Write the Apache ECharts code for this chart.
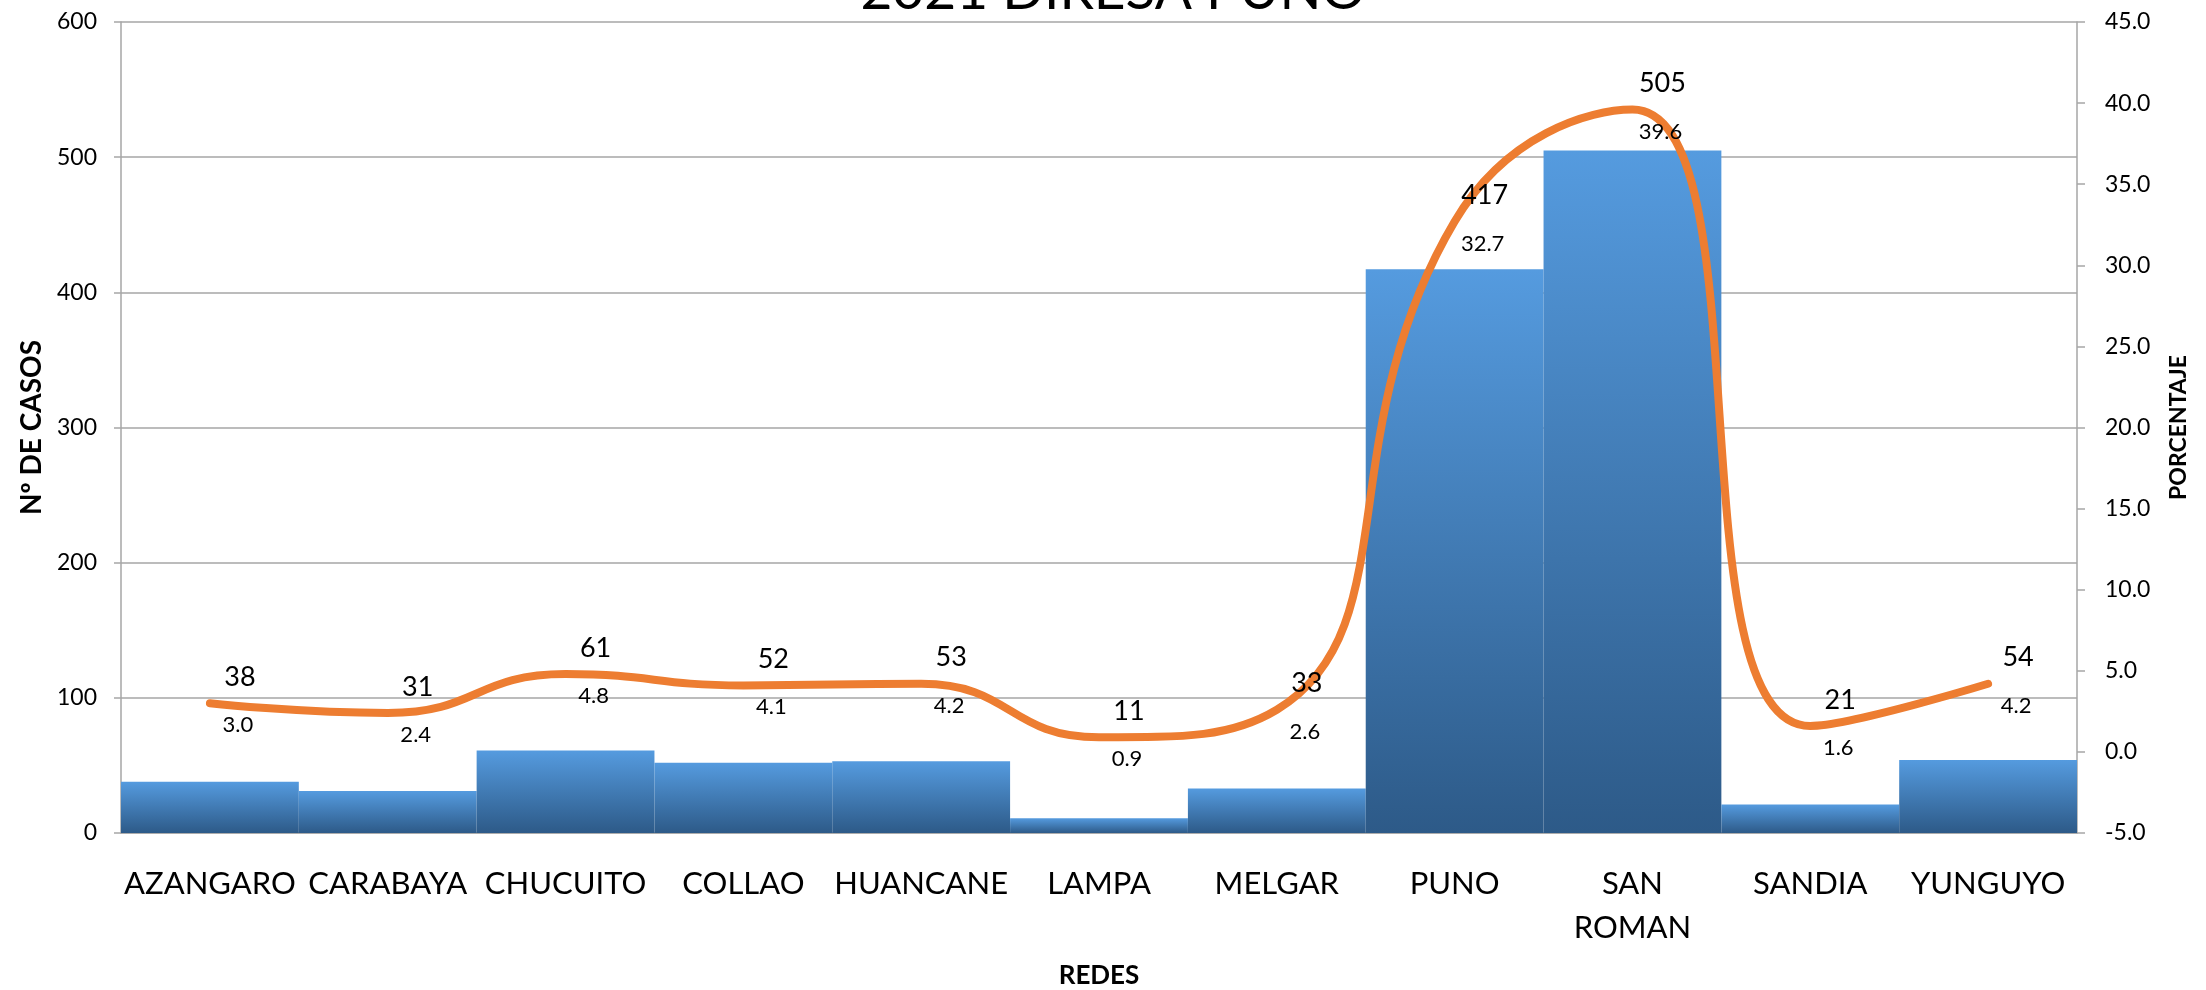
<!DOCTYPE html>
<html>
<head>
<meta charset="utf-8">
<script src="https://cdn.jsdelivr.net/npm/echarts@6/dist/echarts.min.js"></script>
<style>
    html, body { margin: 0; padding: 0; background: #fff; }
    #chart { width: 2206px; height: 990px; }
</style>
</head>
<body>
<div id="chart"></div>
<script>
    // datos
    var redes = ['AZANGARO', 'CARABAYA', 'CHUCUITO', 'COLLAO', 'HUANCANE', 'LAMPA', 'MELGAR', 'PUNO', 'SAN ROMAN', 'SANDIA', 'YUNGUYO'];
    var casos = [38, 31, 61, 52, 53, 11, 33, 417, 505, 21, 54];
    var porcentaje = [3.0, 2.4, 4.8, 4.1, 4.2, 0.9, 2.6, 32.7, 39.6, 1.6, 4.2];
    var casosEje = [0, 600, 100];      // min, max, paso
    var porcentajeEje = [-5, 45, 5];   // min, max, paso

    var font = 'Lato';
    var gris = '#a6a6a6';

    var chart = echarts.init(document.getElementById('chart'));
    var option = {
        animation: false,
        title: {
            text: '2021 DIRESA PUNO',
            left: 1108,
            textAlign: 'center',
            top: -41,
            textStyle: { fontFamily: font, fontSize: 55, fontWeight: 'normal', color: '#000' }
        },
        grid: { left: 121, right: 129, top: 22, bottom: 157, containLabel: false, outerBoundsMode: 'none' },
        xAxis: {
            type: 'category',
            data: redes,
            name: 'REDES',
            nameLocation: 'middle',
            nameGap: 130,
            nameTextStyle: { fontFamily: font, fontSize: 26, fontWeight: 'bold', color: '#000' },
            axisLine: { lineStyle: { color: gris, width: 1.5 } },
            axisTick: { length: 12, lineStyle: { color: gris, width: 1.5 } },
            axisLabel: {
                interval: 0,
                margin: 29,
                fontFamily: font,
                fontSize: 31,
                lineHeight: 44,
                color: '#000',
                formatter: function (v) { return v.replace(' ', '\n'); }
            }
        },
        yAxis: [
            {
                type: 'value',
                min: casosEje[0], max: casosEje[1], interval: casosEje[2],
                name: 'Nº DE CASOS',
                nameLocation: 'middle',
                nameRotate: 90,
                nameGap: 75,
                nameTextStyle: { fontFamily: font, fontSize: 28, fontWeight: 'bold', color: '#000' },
                axisLine: { show: true, lineStyle: { color: gris, width: 1.5 } },
                axisTick: { show: true, length: 7, lineStyle: { color: gris, width: 1.5 } },
                axisLabel: { margin: 24, fontFamily: font, fontSize: 23, color: '#000' },
                splitLine: { lineStyle: { color: gris, width: 1.5 } }
            },
            {
                type: 'value',
                min: porcentajeEje[0], max: porcentajeEje[1], interval: porcentajeEje[2],
                name: 'PORCENTAJE',
                nameLocation: 'middle',
                nameRotate: 90,
                nameGap: 90,
                nameTextStyle: { fontFamily: font, fontSize: 23, fontWeight: 'bold', color: '#000' },
                axisLine: { show: true, lineStyle: { color: gris, width: 1.5 } },
                axisTick: { show: true, length: 8, lineStyle: { color: gris, width: 1.5 } },
                axisLabel: {
                    margin: 28, fontFamily: font, fontSize: 23, color: '#000',
                    formatter: function (v) { return v.toFixed(1); }
                },
                splitLine: { show: false }
            }
        ],
        series: [
            {
                name: 'Nº DE CASOS',
                type: 'bar',
                data: casos,
                barCategoryGap: '0%',
                itemStyle: {
                    color: new echarts.graphic.LinearGradient(0, 0, 0, 1, [
                        { offset: 0, color: '#559BDF' },
                        { offset: 1, color: '#2D5A88' }
                    ])
                }
            },
            {
                name: 'PORCENTAJE',
                type: 'line',
                yAxisIndex: 1,
                data: porcentaje,
                smooth: 0.5,
                symbol: 'circle',
                symbolSize: 1,
                itemStyle: { color: 'rgba(0,0,0,0)' },
                lineStyle: { color: '#ED7D31', width: 8, cap: 'round' },
                label: {
                    show: true,
                    position: 'inside',
                    offset: [28, 22],
                    fontFamily: font,
                    fontSize: 22,
                    color: '#000',
                    formatter: function (p) { return p.value.toFixed(1); }
                },
                z: 3
            },
            {
                // etiquetas de casos sobre la curva
                name: 'casos',
                type: 'line',
                yAxisIndex: 1,
                data: porcentaje,
                symbol: 'circle',
                symbolSize: 1,
                silent: true,
                itemStyle: { color: 'rgba(0,0,0,0)' },
                lineStyle: { width: 0, opacity: 0 },
                label: {
                    show: true,
                    position: 'inside',
                    offset: [30, -26],
                    fontFamily: font,
                    fontSize: 27,
                    color: '#000',
                    formatter: function (p) { return casos[p.dataIndex]; }
                },
                z: 4
            }
        ]
    };
    chart.setOption(option);
</script>
</body>
</html>
